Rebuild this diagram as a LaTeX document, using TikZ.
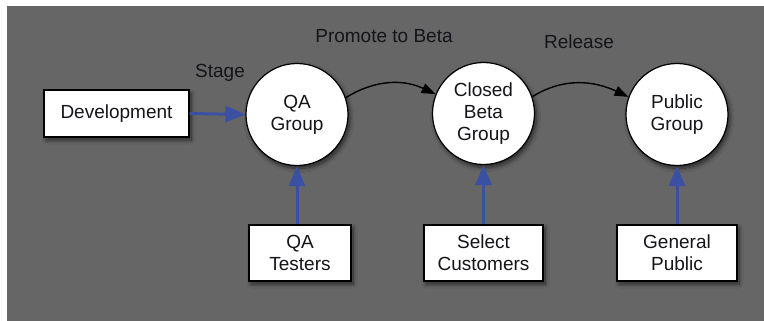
\documentclass[tikz,border=0pt]{standalone}
\usepackage{fontspec}
\setmainfont{Liberation Sans}
\usetikzlibrary{arrows.meta,shadows.blur}
\definecolor{bggray}{RGB}{102,102,102}
\definecolor{flowblue}{RGB}{58,80,162}
\definecolor{inktext}{RGB}{20,20,25}
\begin{document}
\begin{tikzpicture}[x=1pt,y=-1pt,
  every node/.style={font=\fontsize{19}{22}\selectfont, text=inktext, align=center},
  sh/.style={blur shadow={shadow xshift=2pt, shadow yshift=-3pt, shadow blur radius=4pt, shadow blur steps=8, shadow opacity=60}},
  grp/.style={circle, draw=black, line width=1.2pt, fill=white, minimum size=102pt, inner sep=0pt, sh},
  src/.style={rectangle, draw=black, line width=1.4pt, fill=white, inner sep=0pt, sh},
  feed/.style={draw=flowblue, line width=3pt, -{Triangle[length=20pt,width=16pt]}},
  promo/.style={draw=black, line width=1.4pt, -{Triangle[length=14pt,width=10pt]}},
  lbl/.style={inner sep=0pt}
]
\useasboundingbox (0,0) rectangle (764,321);
\fill[bggray] (7,6) rectangle (764,321);

\node[src, minimum width=145pt, minimum height=47pt] (dev) at (116.5,113.5) {Development};
\node[grp] (qa) at (297,114.5) {QA\\Group};
\node[grp] (cb) at (483.5,113.5) {Closed\\Beta\\Group};
\node[grp] (pub) at (677,114.5) {Public\\Group};

\node[src, minimum width=102pt, minimum height=56pt] (qat) at (300,253) {QA\\Testers};
\node[src, minimum width=119pt, minimum height=56pt] (sel) at (483.5,253) {Select\\Customers};
\node[src, minimum width=120pt, minimum height=56pt] (gen) at (677,253) {General\\Public};

\node[lbl] (stage) at (220,73) {Stage};
\node[lbl] (promote) at (384,36) {Promote to Beta};
\node[lbl] (release) at (579,42) {Release};

\draw[feed] (dev.east) -- (qa.west);
\draw[feed] (qat.north -| qa.south) -- (qa.south);
\draw[feed] (sel.north -| cb.south) -- (cb.south);
\draw[feed] (gen.north) -- (pub.south);

\draw[promo] (qa.19) to[out=32,in=155] (cb.158);
\draw[promo] (cb.19) to[out=32,in=155] (pub.160);
\end{tikzpicture}
\end{document}
